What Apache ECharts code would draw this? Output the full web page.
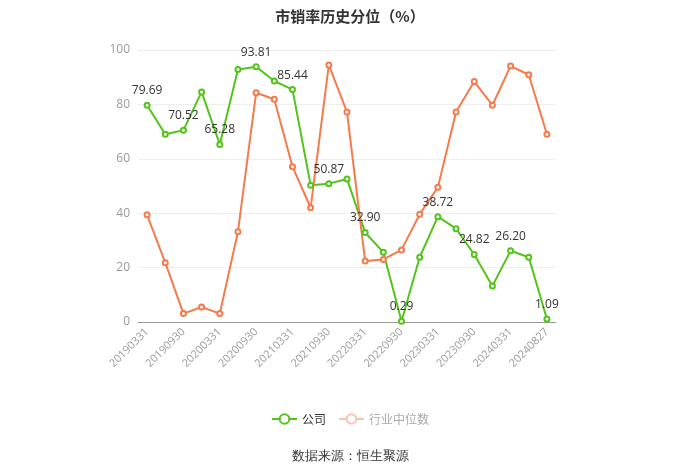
<!DOCTYPE html>
<html><head><meta charset="utf-8">
<script src="https://cdn.jsdelivr.net/npm/echarts@6/dist/echarts.min.js"></script>
<style>html,body{margin:0;padding:0;background:#fff}#c{width:700px;height:474px}</style>
</head><body><div id="c"></div>
<script>
const categories = ['20190331','20190630','20190930','20191231','20200331','20200630','20200930','20201231','20210331','20210630','20210930','20211231','20220331','20220630','20220930','20221231','20230331','20230630','20230930','20231231','20240331','20240630','20240827'];
const company = [79.69,69.0,70.52,84.6,65.28,92.8,93.81,88.6,85.44,50.3,50.87,52.6,32.90,25.6,0.29,23.8,38.72,34.3,24.82,13.2,26.20,23.8,1.09];
const industry = [39.4,21.8,3.1,5.5,3.1,33.2,84.3,81.9,57.1,42.0,94.5,77.2,22.4,23.0,26.5,39.6,49.5,77.2,88.4,79.7,94.1,90.9,69.0];
const yTicks = [0,20,40,60,80,100];

const green = '#52c41a', orange = '#f57a4c';
const chart = echarts.init(document.getElementById('c'));
chart.setOption({
  animation:false,
  title:{text:'市销率历史分位（%）',left:'center',top:4,textStyle:{fontSize:15,fontWeight:'bold',color:'#333',fontFamily:'"Noto Sans CJK SC", sans-serif'}},
  grid:{left:138,right:144,top:50,bottom:152},
  legend:{bottom:44,left:'center',itemWidth:25,itemHeight:12,itemGap:12,
    textStyle:{fontSize:12,color:'#333',fontFamily:'"Noto Sans CJK SC", sans-serif'},
    data:[{name:'公司'},{name:'行业中位数',textStyle:{color:'#aaa'},itemStyle:{color:'#f9c3ad'},lineStyle:{color:'#f9c3ad'}}]},
  graphic:[{type:'text',left:'center',top:450,style:{text:'数据来源：恒生聚源',fontSize:13,fill:'#333',font:'13px "Noto Sans CJK SC", sans-serif'}}],
  xAxis:{type:'category',data:categories,boundaryGap:true,
    axisLine:{lineStyle:{color:'#999'}},axisTick:{alignWithLabel:true,interval:1,lineStyle:{color:'#999'}},
    axisLabel:{interval:1,rotate:45,fontSize:11,color:'#999',fontFamily:'"Open Sans", sans-serif'}},
  yAxis:{type:'value',min:yTicks[0],max:yTicks[yTicks.length-1],interval:20,
    axisLine:{show:false},axisTick:{show:false},
    axisLabel:{fontSize:12,color:'#999',fontFamily:'"Open Sans", sans-serif'},
    splitLine:{lineStyle:{color:'#eee'}}},
  series:[
    {name:'公司',type:'line',data:company,symbol:'emptyCircle',symbolSize:5,
     itemStyle:{color:green},lineStyle:{width:2,color:green},
     label:{show:true,position:'top',fontSize:12,color:'#333',fontFamily:'"Open Sans", sans-serif',
       formatter:p=>p.dataIndex%2===0?p.value.toFixed(2):''}},
    {name:'行业中位数',type:'line',data:industry,symbol:'emptyCircle',symbolSize:5,
     itemStyle:{color:orange},lineStyle:{width:2,color:orange}}
  ]
});
</script></body></html>
